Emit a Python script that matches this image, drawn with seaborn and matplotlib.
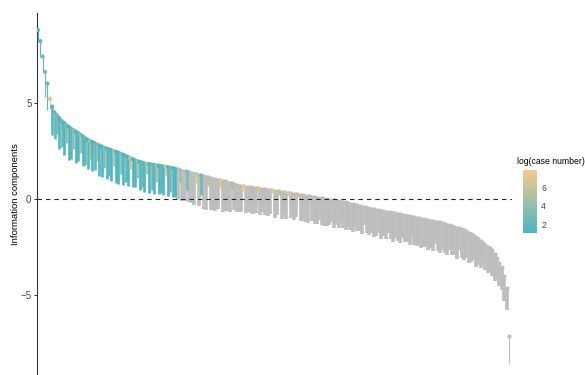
import numpy as np
import pandas as pd
import matplotlib
matplotlib.use("Agg")
import matplotlib.pyplot as plt
import seaborn as sns
from matplotlib.colors import LinearSegmentedColormap, Normalize
from matplotlib.cm import ScalarMappable

# Information component (point estimate) per drug-event pair, ranked
ic = [
    8.78, 8.20, 7.40, 6.60, 6.00, 5.20, 4.80, 4.50, 4.35, 4.20,
    4.05, 3.95, 3.85, 3.75, 3.65, 3.58, 3.50, 3.42, 3.35, 3.25,
    3.15, 3.08, 3.02, 2.96, 2.90, 2.84, 2.78, 2.72, 2.67, 2.62,
    2.58, 2.54, 2.49, 2.45, 2.40, 2.35, 2.30, 2.24, 2.19, 2.13,
    2.07, 2.01, 1.97, 1.93, 1.89, 1.85, 1.83, 1.81, 1.79, 1.77,
    1.75, 1.73, 1.71, 1.69, 1.67, 1.65, 1.62, 1.60, 1.57, 1.54,
    1.50, 1.47, 1.44, 1.41, 1.38, 1.35, 1.32, 1.29, 1.25, 1.22,
    1.18, 1.15, 1.12, 1.09, 1.06, 1.03, 1.00, 0.97, 0.94, 0.91,
    0.88, 0.85, 0.81, 0.78, 0.74, 0.70, 0.68, 0.66, 0.64, 0.62,
    0.61, 0.59, 0.57, 0.56, 0.54, 0.52, 0.50, 0.49, 0.47, 0.45,
    0.43, 0.41, 0.39, 0.37, 0.35, 0.33, 0.31, 0.29, 0.27, 0.25,
    0.23, 0.21, 0.19, 0.17, 0.15, 0.13, 0.11, 0.09, 0.07, 0.05,
    0.03, 0.01, -0.01, -0.03, -0.05, -0.07, -0.09, -0.11, -0.13, -0.15,
    -0.18, -0.21, -0.24, -0.27, -0.30, -0.33, -0.36, -0.39, -0.42, -0.45,
    -0.48, -0.51, -0.54, -0.57, -0.59, -0.61, -0.63, -0.66, -0.68, -0.70,
    -0.72, -0.74, -0.76, -0.79, -0.81, -0.84, -0.87, -0.90, -0.92, -0.95,
    -0.97, -1.00, -1.02, -1.05, -1.07, -1.10, -1.12, -1.14, -1.17, -1.20,
    -1.22, -1.25, -1.29, -1.33, -1.37, -1.41, -1.45, -1.49, -1.53, -1.58,
    -1.63, -1.68, -1.74, -1.80, -1.88, -1.97, -2.07, -2.17, -2.27, -2.37,
    -2.47, -2.56, -2.65, -2.85, -3.05, -3.30, -3.55, -4.00, -4.60, -7.10,
]

# Lower bound of the IC credibility interval (IC025)
ic_lower = [
    8.20, 7.40, 6.60, 5.30, 4.60, 4.70, 3.30, 3.10, 3.40, 2.60,
    2.70, 2.30, 2.90, 2.00, 2.10, 2.60, 1.85, 1.95, 2.40, 1.70,
    1.75, 1.58, 2.10, 1.45, 1.50, 1.95, 1.22, 1.15, 1.60, 1.05,
    1.20, 0.95, 1.70, 0.85, 0.80, 1.30, 0.74, 0.90, 0.68, 1.55,
    0.62, 0.60, 1.10, 0.47, 0.60, 0.35, 1.30, 0.31, 0.45, 0.28,
    0.90, 0.24, 0.30, 0.20, 1.20, 0.16, 0.35, 0.12, 0.10, -0.05,
    0.90, -0.10, -0.12, 0.45, -0.15, -0.20, -0.30, 0.85, -0.35, 0.20,
    -0.50, -0.57, 0.70, -0.55, -0.58, -0.62, -0.50, 0.55, -0.65, -0.60,
    -0.62, -0.66, 0.50, -0.55, -0.68, -0.70, -0.65, 0.40, -0.75, -0.65,
    -0.72, -0.80, -0.75, 0.35, -0.85, -0.70, -0.82, -0.88, -0.80, 0.30,
    -0.97, -0.85, 0.20, -1.02, -0.85, -1.05, 0.18, -1.00, -1.10, -0.95,
    0.12, -1.15, -1.05, -1.20, -1.25, 0.05, -1.15, -1.28, -1.30, -1.10,
    -1.35, -1.38, -1.42, -1.35, -1.22, -1.50, -1.37, -1.50, -1.17, -1.50,
    -1.63, -1.46, -1.59, -1.72, -1.45, -1.68, -1.66, -1.83, -1.36, -1.79,
    -1.87, -1.75, -1.97, -1.90, -1.78, -2.06, -1.94, -2.07, -1.75, -2.08,
    -2.21, -2.03, -2.16, -2.29, -2.02, -2.25, -2.22, -2.40, -1.93, -2.37,
    -2.45, -2.33, -2.57, -2.50, -2.38, -2.66, -2.55, -2.68, -2.36, -2.69,
    -2.82, -2.65, -2.79, -2.93, -2.67, -2.91, -2.90, -3.09, -2.63, -3.07,
    -3.16, -3.05, -3.30, -3.27, -3.19, -3.51, -3.43, -3.60, -3.32, -3.69,
    -3.85, -3.78, -4.02, -4.27, -4.13, -4.50, -4.75, -5.30, -5.75, -8.50,
]

# log(case number) per pair
log_case = [
    1.6, 1.8, 2.6, 3.2, 2.2, 6.8, 1.5, 2.0, 3.0, 1.4,
    2.4, 1.3, 3.5, 1.2, 1.9, 4.0, 1.1, 1.6, 3.8, 1.4,
    2.1, 1.3, 4.5, 1.2, 1.8, 3.9, 1.4, 1.1, 3.6, 1.3,
    2.2, 1.2, 5.2, 1.4, 1.1, 3.3, 1.5, 2.0, 1.3, 6.0,
    1.2, 1.4, 4.2, 1.1, 2.3, 1.3, 5.0, 1.2, 2.5, 1.4,
    4.4, 1.1, 2.0, 1.3, 6.5, 1.2, 2.8, 1.5, 1.3, 1.2,
    4.8, 1.4, 1.1, 3.0, 1.4, 1.6, 1.3, 6.2, 1.2, 2.4,
    1.1, 1.4, 5.5, 1.3, 1.8, 1.2, 1.6, 6.8, 1.1, 2.6,
    1.3, 1.2, 5.0, 1.8, 3.6, 1.1, 1.4, 7.2, 1.2, 1.6,
    4.2, 1.1, 1.3, 6.5, 1.2, 1.9, 3.1, 1.1, 1.4, 7.0,
    1.2, 1.5, 5.6, 1.1, 1.8, 1.3, 6.9, 1.2, 1.1, 1.7,
    6.0, 1.1, 1.4, 1.2, 1.1, 5.8, 1.6, 1.1, 1.3, 1.9,
    1.2, 1.1, 1.4, 1.3, 2.0, 1.1, 1.2, 1.5, 2.2, 1.1,
    1.3, 1.6, 1.1, 1.2, 1.8, 1.1, 1.4, 1.1, 2.5, 1.2,
    1.1, 1.5, 1.1, 1.3, 1.7, 1.1, 1.2, 1.1, 2.1, 1.1,
    1.1, 1.4, 1.2, 1.1, 1.6, 1.1, 1.3, 1.1, 2.4, 1.1,
    1.1, 1.3, 1.1, 1.2, 1.5, 1.1, 1.2, 1.1, 1.9, 1.1,
    1.1, 1.4, 1.1, 1.1, 1.6, 1.1, 1.2, 1.1, 2.0, 1.1,
    1.1, 1.3, 1.1, 1.1, 1.4, 1.1, 1.2, 1.1, 1.7, 1.1,
    1.1, 1.2, 1.1, 1.1, 1.3, 1.1, 1.1, 1.1, 1.1, 1.1,
]

y_ticks = [-5, 0, 5]
cbar_ticks = [2, 4, 6]

df = pd.DataFrame({"rank": np.arange(len(ic)), "ic": ic,
                   "lower": ic_lower, "log_case": log_case})
df["signal"] = df["lower"] > 0

sns.set_theme(style="ticks")
plt.rcParams["font.family"] = ["Liberation Sans", "DejaVu Sans"]

W, H = 585, 375
fig = plt.figure(figsize=(W / 100, H / 100), dpi=100)
ax = fig.add_axes([37 / W, 0, 475 / W, 362 / H])

cmap = LinearSegmentedColormap.from_list("lc", ["#4AB5C4", "#F7C98B"])
norm = Normalize(vmin=1.05, vmax=7.9)
gray = "#BEBEBE"

neg = df[~df["signal"]]
pos = df[df["signal"]]

# isolated extreme pairs at both ends are drawn as thin stems
neg_lw = np.where(neg["rank"] >= 199, 0.9, 2.6)
pos_lw = np.where(pos["rank"] < 6, 0.9, 1.9)

ax.vlines(neg["rank"], neg["lower"], neg["ic"], colors=gray,
          linewidths=neg_lw, zorder=2)
sns.scatterplot(data=neg, x="rank", y="ic", color=gray, s=9, linewidth=0,
                ax=ax, legend=False, zorder=3)
ax.vlines(pos["rank"], pos["lower"], pos["ic"],
          colors=cmap(norm(pos["log_case"].to_numpy())), linewidths=pos_lw,
          zorder=4)
sns.scatterplot(data=pos, x="rank", y="ic", hue="log_case", palette=cmap,
                hue_norm=norm, s=9, linewidth=0, ax=ax, legend=False, zorder=5)

ax.axhline(0, color="#222222", lw=0.8, ls=(0, (4.0, 3.6)), zorder=6)

ax.set_xlim(-0.4, 200.3)
ax.set_ylim(-9.14, 9.66)
ax.set_yticks(y_ticks)
ax.set_xticks([])
ax.set_xlabel("")
ax.set_ylabel("Information components", fontsize=6.8, color="black")
ax.yaxis.set_label_coords(-0.036, 0.5)
for s in ["top", "right", "bottom"]:
    ax.spines[s].set_visible(False)
ax.spines["left"].set_color("#333333")
ax.spines["left"].set_linewidth(0.8)
ax.tick_params(axis="y", length=2.5, width=0.7, color="#333333",
               labelsize=7, labelcolor="#4D4D4D", pad=1.5)

# colour bar legend
cax = fig.add_axes([523 / W, 1 - 233 / H, 14 / W, 63 / H])
cb = fig.colorbar(ScalarMappable(norm=norm, cmap=cmap), cax=cax, ticks=cbar_ticks)
cb.outline.set_visible(False)
cax.tick_params(length=2.5, width=0.6, color="white", direction="in",
                labelsize=6.3, labelcolor="#4D4D4D", pad=3)
fig.text(517 / W, 1 - 162 / H, "log(case number)", fontsize=6.2,
         va="center", ha="left", color="black")

fig.savefig("out.png", dpi=100)
